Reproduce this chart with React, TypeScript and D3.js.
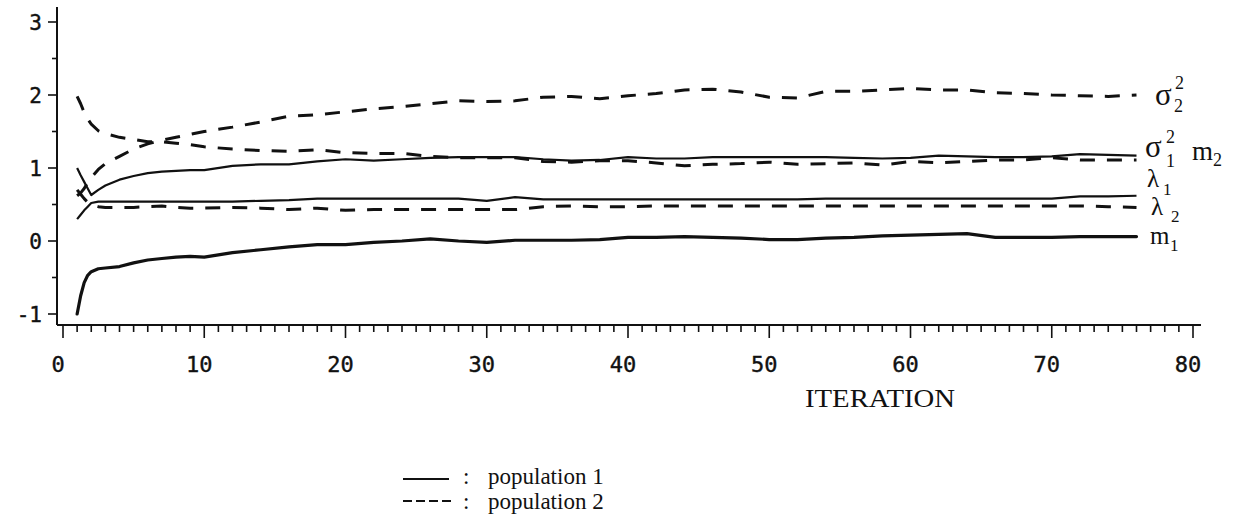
import React, { useEffect } from "react";
import * as d3 from "d3";

// iteration grid (dense at the start where the curves move fast)
const ITER = [1, 1.25, 1.5, 1.75, 2, 2.5, 3, 4, 5, 6, 7, 8, 9,
  10, 12, 14, 16, 18, 20, 22, 24, 26, 28, 30, 32, 34, 36, 38, 40, 42, 44, 46, 48, 50,
  52, 54, 56, 58, 60, 62, 64, 66, 68, 70, 72, 74, 76];

// population 1 (solid)
const M1 = [-1.0, -0.75, -0.57, -0.47, -0.42, -0.38, -0.37, -0.35, -0.30, -0.26, -0.24, -0.22, -0.21,
  -0.22, -0.16, -0.12, -0.08, -0.05, -0.05, -0.02, 0.0, 0.03, 0.0, -0.02, 0.01, 0.01, 0.01, 0.02, 0.05, 0.05, 0.06, 0.05, 0.04, 0.02,
  0.02, 0.04, 0.05, 0.07, 0.08, 0.09, 0.1, 0.05, 0.05, 0.05, 0.06, 0.06, 0.06];
const SIGMA1 = [1.0, 0.9, 0.81, 0.72, 0.63, 0.70, 0.76, 0.84, 0.89, 0.93, 0.95, 0.96, 0.97,
  0.97, 1.03, 1.05, 1.05, 1.09, 1.12, 1.1, 1.12, 1.14, 1.15, 1.15, 1.15, 1.12, 1.1, 1.11, 1.15, 1.13, 1.13, 1.15, 1.15, 1.15,
  1.15, 1.15, 1.14, 1.13, 1.14, 1.17, 1.16, 1.15, 1.15, 1.16, 1.19, 1.18, 1.17];
const LAMBDA1 = [0.3, 0.36, 0.42, 0.47, 0.52, 0.54, 0.54, 0.54, 0.54, 0.54, 0.54, 0.54, 0.54,
  0.54, 0.54, 0.55, 0.56, 0.58, 0.58, 0.58, 0.58, 0.58, 0.58, 0.55, 0.6, 0.57, 0.57, 0.57, 0.57, 0.57, 0.57, 0.57, 0.57, 0.57,
  0.57, 0.58, 0.58, 0.58, 0.58, 0.58, 0.58, 0.58, 0.58, 0.58, 0.61, 0.61, 0.62];

// population 2 (dashed)
const M2 = [1.98, 1.88, 1.76, 1.67, 1.6, 1.51, 1.47, 1.42, 1.39, 1.36, 1.36, 1.34, 1.32,
  1.29, 1.26, 1.24, 1.23, 1.25, 1.21, 1.2, 1.2, 1.16, 1.14, 1.14, 1.14, 1.09, 1.08, 1.1, 1.1, 1.07, 1.03, 1.05, 1.06, 1.08,
  1.05, 1.06, 1.07, 1.04, 1.09, 1.07, 1.09, 1.11, 1.11, 1.14, 1.11, 1.11, 1.11];
const SIGMA2 = [0.62, 0.66, 0.72, 0.8, 0.87, 0.98, 1.06, 1.16, 1.26, 1.33, 1.38, 1.42, 1.46,
  1.5, 1.56, 1.63, 1.71, 1.73, 1.77, 1.81, 1.84, 1.88, 1.92, 1.91, 1.92, 1.97, 1.98, 1.95, 1.99, 2.02, 2.07, 2.08, 2.04, 1.97,
  1.96, 2.05, 2.05, 2.07, 2.09, 2.07, 2.07, 2.03, 2.02, 2.0, 1.99, 1.98, 2.0];
const LAMBDA2 = [0.7, 0.64, 0.58, 0.53, 0.5, 0.47, 0.46, 0.46, 0.46, 0.47, 0.48, 0.46, 0.45,
  0.45, 0.46, 0.45, 0.43, 0.45, 0.42, 0.43, 0.43, 0.43, 0.43, 0.43, 0.43, 0.47, 0.48, 0.47, 0.47, 0.48, 0.48, 0.48, 0.48, 0.48,
  0.48, 0.48, 0.48, 0.48, 0.48, 0.48, 0.48, 0.48, 0.48, 0.48, 0.48, 0.47, 0.46];

const X_MAJOR = [0, 10, 20, 30, 40, 50, 60, 70, 80];
const Y_MAJOR = [-1, 0, 1, 2, 3];
const X_LABEL = "ITERATION";
const LEGEND = ["population 1", "population 2"];

const INK = "#111";
const MONO = "'DejaVu Sans Mono', monospace";
const SERIF = "'Liberation Serif', 'Times New Roman', serif";

export default function App() {
  useEffect(() => {
    document.body.style.margin = "0";
  }, []);

  const W = 1240, H = 521;
  const x = d3.scaleLinear().domain([0, 80]).range([63, 1193]);
  const y = d3.scaleLinear().domain([-1, 3]).range([314, 22]);
  const axisX = 57, axisY = 325;

  const line = d3.line<number>()
    .x((_, i) => x(ITER[i]))
    .y((v) => y(v));

  const xMinor = d3.range(0, 81, 1);
  const yMinor = d3.range(-1, 3.01, 0.5);

  const dash = "15,12";

  return (
    <svg width={W} height={H} style={{ position: "absolute", left: 0, top: 0, background: "#fff" }}>
      <rect x={0} y={0} width={W} height={H} fill="#fff" />
      {/* axes */}
      <line x1={axisX} x2={axisX} y1={7} y2={axisY} stroke={INK} strokeWidth={2} />
      <line x1={axisX} x2={1201} y1={axisY} y2={axisY} stroke={INK} strokeWidth={2} />
      {yMinor.map((t) => {
        const major = Math.abs(t - Math.round(t)) < 1e-6;
        return (
          <line key={"ym" + t} x1={axisX - (major ? 9 : 5)} x2={axisX} y1={y(t)} y2={y(t)}
            stroke={INK} strokeWidth={1.6} />
        );
      })}
      {Y_MAJOR.map((t) => (
        <text key={"yl" + t} x={42} y={y(t) + 8} textAnchor="end" fontFamily={MONO}
          fontSize={21} fill={INK} stroke={INK} strokeWidth={0.4}>{t}</text>
      ))}
      {xMinor.map((t) => {
        const major = t % 10 === 0;
        return (
          <line key={"xm" + t} x1={x(t)} x2={x(t)} y1={axisY} y2={axisY + (major ? 13 : 7)}
            stroke={INK} strokeWidth={1.6} />
        );
      })}
      {X_MAJOR.map((t) => (
        <text key={"xl" + t} x={x(t) - 5} y={372} textAnchor="middle" fontFamily={MONO}
          fontSize={22} fill={INK} stroke={INK} strokeWidth={0.4}>{t}</text>
      ))}
      <text x={880} y={407} textAnchor="middle" fontFamily={SERIF} fontSize={25}
        textLength={150} lengthAdjust="spacingAndGlyphs" fill={INK}>{X_LABEL}</text>

      {/* population 2 (dashed) */}
      {[SIGMA2, M2, LAMBDA2].map((s, i) => (
        <path key={"p2" + i} d={line(s) || ""} fill="none" stroke={INK} strokeWidth={3}
          strokeDasharray={dash} strokeLinejoin="round" />
      ))}
      {/* population 1 (solid) */}
      <path d={line(SIGMA1) || ""} fill="none" stroke={INK} strokeWidth={2.2} strokeLinejoin="round" />
      <path d={line(LAMBDA1) || ""} fill="none" stroke={INK} strokeWidth={2.2} strokeLinejoin="round" />
      <path d={line(M1) || ""} fill="none" stroke={INK} strokeWidth={3.2} strokeLinejoin="round" strokeLinecap="round" />

      {/* curve labels */}
      <g fontFamily={SERIF} fill={INK}>
        <text x={1155} y={105} fontSize={31}>σ</text>
        <text x={1175} y={89} fontSize={18}>2</text>
        <text x={1174} y={112} fontSize={18}>2</text>

        <text x={1145} y={157} fontSize={31}>σ</text>
        <text x={1166} y={143} fontSize={18}>2</text>
        <text x={1166} y={167} fontSize={18}>1</text>
        <text x={1192} y={160} fontSize={27}>m</text>
        <text x={1213} y={166} fontSize={18}>2</text>

        <text x={1147} y={187} fontSize={25}>λ</text>
        <text x={1163} y={195} fontSize={17}>1</text>

        <text x={1151} y={215} fontSize={25}>λ</text>
        <text x={1171} y={222} fontSize={17}>2</text>

        <text x={1150} y={244} fontSize={25}>m</text>
        <text x={1170} y={251} fontSize={17}>1</text>
      </g>

      {/* legend */}
      <line x1={403} x2={449} y1={479} y2={479} stroke={INK} strokeWidth={2.2} />
      <line x1={403} x2={451} y1={501} y2={501} stroke={INK} strokeWidth={2.2} strokeDasharray="9,4" />
      <g fontFamily={SERIF} fontSize={23} fill={INK}>
        <text x={463} y={484}>:</text>
        <text x={488} y={484}>{LEGEND[0]}</text>
        <text x={463} y={509}>:</text>
        <text x={488} y={509}>{LEGEND[1]}</text>
      </g>
    </svg>
  );
}
